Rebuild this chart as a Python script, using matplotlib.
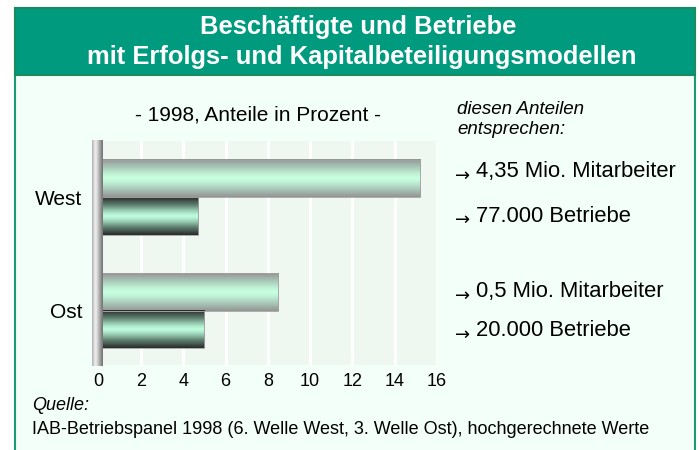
import numpy as np
import matplotlib.pyplot as plt
from matplotlib.patches import Rectangle
from matplotlib.colors import LinearSegmentedColormap

plt.rcParams['font.family'] = ['Liberation Sans', 'DejaVu Sans']

# data
regions = ['Ost', 'West']
beschaeftigte = [8.5, 15.2]   # Anteil Beschaeftigte in %
betriebe = [5.0, 4.7]         # Anteil Betriebe in %
xticks = [0, 2, 4, 6, 8, 10, 12, 14, 16]
notes_west = ['4,35 Mio. Mitarbeiter', '77.000 Betriebe']
notes_ost = ['0,5 Mio. Mitarbeiter', '20.000 Betriebe']

W, H = 699, 450
fig = plt.figure(figsize=(W / 100, H / 100), dpi=100)
fig.patch.set_facecolor('white')


def px(x, y):
    # pixel coords (from top left) -> figure fraction
    return x / W, 1 - y / H


# outer frame and title box
x0, y0 = px(15, 452)
fig.patches.append(Rectangle((x0, y0), 680 / W, 444 / H, transform=fig.transFigure,
                             facecolor='#F3FFF9', edgecolor='#1B9A76', lw=1.5, zorder=-2))
x0, y0 = px(15, 75)
fig.patches.append(Rectangle((x0, y0), 680 / W, 67 / H, transform=fig.transFigure,
                             facecolor='#009A7E', edgecolor='#1B8A5E', lw=1.5, zorder=-1))
fig.text(358 / W, 1 - 27 / H, 'Beschäftigte und Betriebe', color='white', fontsize=18.4,
         fontweight='bold', ha='center', va='center')
fig.text(362 / W, 1 - 57 / H, 'mit Erfolgs- und Kapitalbeteiligungsmodellen', color='white',
         fontsize=18.4, fontweight='bold', ha='center', va='center')

# plot area
left, bottom = 98.7 / W, 1 - 365 / H
ax = fig.add_axes([left, bottom, 338.3 / W, 224 / H])
ax.set_facecolor('#EEF8F1')
for s in ax.spines.values():
    s.set_visible(False)

pos = np.arange(len(regions))
h = 0.33
bars_top = ax.barh(pos + h / 2, beschaeftigte, height=h, color='none')
bars_bot = ax.barh(pos - h / 2, betriebe, height=h, color='none')

grad = np.abs(np.linspace(-1, 1, 64)).reshape(-1, 1) ** 1.3
cm_top = LinearSegmentedColormap.from_list('top', ['#C8FFE0', '#A8C8B8', '#959595'])
cm_bot = LinearSegmentedColormap.from_list('bot', ['#BDFCDC', '#5E8070', '#2A2A2A'])
for bars, cm in ((bars_top, cm_top), (bars_bot, cm_bot)):
    for b in bars:
        x, y, w, hh = b.get_x(), b.get_y(), b.get_width(), b.get_height()
        ax.imshow(grad, cmap=cm, extent=[x, x + w, y, y + hh], aspect='auto',
                  interpolation='bicubic', zorder=3)
        ax.add_patch(Rectangle((x, y), w, hh, facecolor='none', edgecolor='#A0A0A0',
                               lw=0.6, zorder=4))

ax.set_xticks(xticks)
ax.set_xticklabels([str(t) for t in xticks], fontsize=13)
ax.set_yticks(pos)
ax.set_yticklabels(regions, fontsize=15)
ax.tick_params(axis='x', length=0, pad=6)
ax.tick_params(axis='y', length=0, pad=12)
ax.grid(axis='x', color='white', lw=2)
ax.set_axisbelow(True)

# grey axis wall
wall = np.abs(np.linspace(-1, 1, 32) + 0.35).reshape(1, -1)
cm_wall = LinearSegmentedColormap.from_list('wall', ['#F4F4F4', '#B0B0B0', '#707070'])
ax.imshow(wall, cmap=cm_wall, extent=[-0.30, 0.19, -0.488, 1.4965], aspect='auto',
          interpolation='bicubic', zorder=5, clip_on=False)
ax.set_xlim(0, 16)
ax.set_ylim(-0.479, 1.4965)

# texts
fig.text(258 / W, 1 - 115 / H, '- 1998, Anteile in Prozent -', fontsize=15,
         ha='center', va='center')
fig.text(457 / W, 1 - 110 / H, 'diesen Anteilen', fontsize=13.5, style='italic', va='center')
fig.text(457 / W, 1 - 130 / H, 'entsprechen:', fontsize=13.5, style='italic', va='center')
for i, t in enumerate(notes_west + notes_ost):
    yy = [172, 216, 292, 331][i]
    fig.text(455 / W, 1 - (yy + 4) / H, '\u2192', fontsize=13, va='center',
             family='DejaVu Sans')
    fig.text(476 / W, 1 - yy / H, t, fontsize=15.8, va='center')

fig.text(32 / W, 1 - 405 / H, 'Quelle:', fontsize=13, style='italic', va='center')
fig.text(32 / W, 1 - 430 / H,
         'IAB-Betriebspanel 1998 (6. Welle West, 3. Welle Ost), hochgerechnete Werte',
         fontsize=13, va='center')

fig.savefig('out.png', dpi=100, facecolor=fig.get_facecolor())
